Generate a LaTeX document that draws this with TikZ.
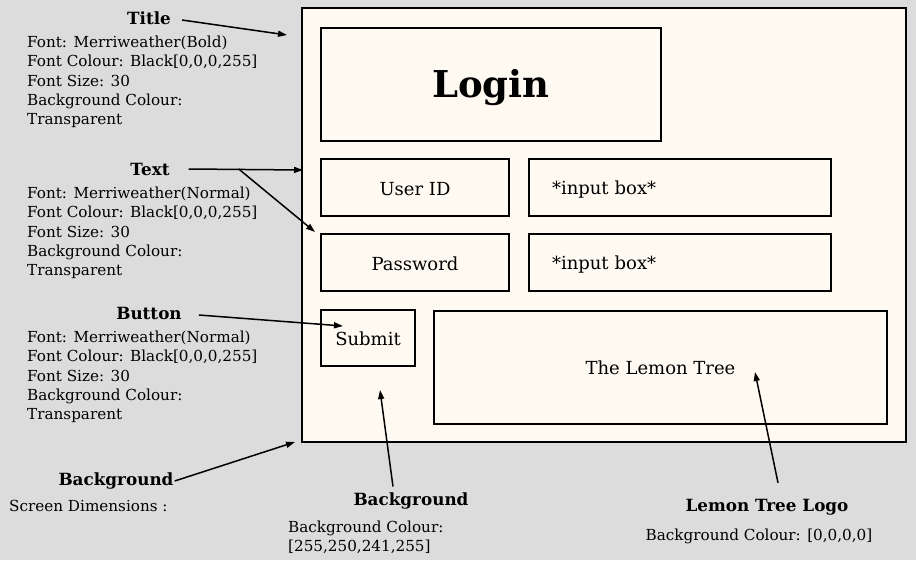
\documentclass[tikz,border=0pt]{standalone}
\usepackage{fontspec}
\setmainfont{DejaVu Serif}
\usetikzlibrary{arrows.meta}
\definecolor{paper}{RGB}{255,250,241}
\definecolor{backdrop}{RGB}{220,220,220}
\newcommand{\lowered}[2]{\raisebox{-#1}[\height][\depth]{#2}}

\begin{document}
\begin{tikzpicture}[x=1pt, y=-1pt, >={Triangle[length=9pt,width=6pt]},
  frame/.style={draw, line width=1.6pt, fill=paper, inner sep=0pt},
  field/.style={frame, font=\fontsize{18}{21}\selectfont},
  head/.style={font=\fontsize{16.8}{20}\selectfont\bfseries, inner sep=1pt},
  notes/.style={font=\fontsize{15.2}{19.2}\selectfont, align=left, anchor=north west, inner sep=0pt},
  pointer/.style={->, line width=1.5pt}]
\fill[backdrop] (0,0) rectangle (916,560);
\useasboundingbox (0,0) rectangle (916,560);

\node[frame, minimum width=604, minimum height=434] (screen) at (604,225) {};
\node[frame, minimum width=340, minimum height=113, font=\fontsize{37}{40}\selectfont\bfseries] (login) at (491,84.5) {\lowered{3pt}{Login}};
\node[field, minimum width=188, minimum height=57] (userid) at (415,187.5) {\lowered{2pt}{User ID}};
\node[field, minimum width=188, minimum height=57] (password) at (415,262.5) {\lowered{1pt}{Password}};
\node[field, minimum width=302, minimum height=57, text width=256, inner xsep=23, align=left] (input1) at (680,187.5) {\lowered{2pt}{*input box*}};
\node[field, minimum width=302, minimum height=57, text width=256, inner xsep=23, align=left] (input2) at (680,262.5) {\lowered{2pt}{*input box*}};
\node[field, minimum width=94, minimum height=56] (submit) at (368,338) {\lowered{1pt}{Submit}};
\node[field, minimum width=453, minimum height=113] (logo) at (660.5,367.5) {The Lemon Tree};

\node[head] (title) at (149,18) {Title};
\node[notes] (titlenotes) at (27,36) {Font: Merriweather(Bold)\\Font Colour: Black[0,0,0,255]\\Font Size: 30\\Background Colour:\\Transparent};
\node[head] (text) at (150,169) {Text};
\node[notes] (textnotes) at (27,187) {Font: Merriweather(Normal)\\Font Colour: Black[0,0,0,255]\\Font Size: 30\\Background Colour:\\Transparent};
\node[head] (button) at (149,313) {Button};
\node[notes] (buttonnotes) at (27,331) {Font: Merriweather(Normal)\\Font Colour: Black[0,0,0,255]\\Font Size: 30\\Background Colour:\\Transparent};
\node[head] (screenbg) at (116,481) {Background};
\node[notes] (screennotes) at (9,500) {Screen Dimensions :};
\node[head] (fillbg) at (411,501) {Background};
\node[notes] (fillnotes) at (288,521) {Background Colour:\\{}[255,250,241,255]};
\node[head] (logohead) at (767,507) {Lemon Tree Logo};
\node[notes, anchor=north] (logonotes) at (759,529) {Background Colour: [0,0,0,0]};

\coordinate (titletip) at (287,35);
\coordinate (texttip) at (303,170);
\coordinate (texttip2) at (315,232);
\coordinate (buttontip) at (343,326);
\coordinate (screentip) at (295,442);
\coordinate (filltip) at (380,390);
\coordinate (logotip) at (755,372);

\draw[pointer] (title.east) ++(10,2) -- (titletip);
\draw[pointer] (text.east) ++(18,0) -- (texttip);
\draw[pointer] (text.east) ++(68,0) -- (texttip2);
\draw[pointer] (button.east) ++(16,2) -- (buttontip);
\draw[pointer] (screenbg.east) -- (screentip);
\draw[pointer] (fillbg.north) ++(-18,-5) -- (filltip);
\draw[pointer] (logohead.north) ++(11,-15) -- (logotip);
\end{tikzpicture}
\end{document}
